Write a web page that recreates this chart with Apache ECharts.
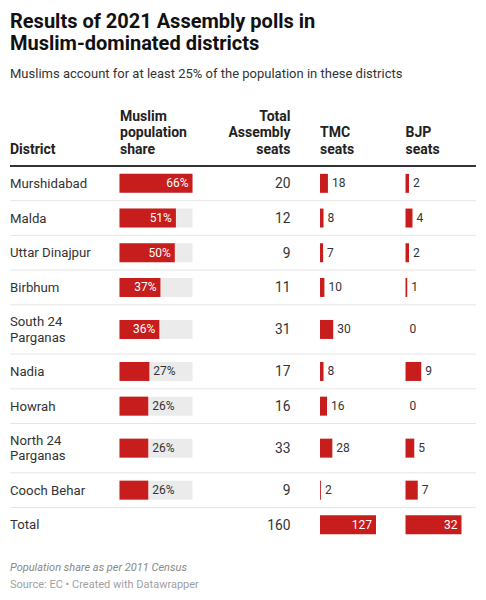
<!DOCTYPE html>
<html>
<head>
<meta charset="utf-8">
<script src="https://cdn.jsdelivr.net/npm/echarts@6/dist/echarts.min.js"></script>
<style>
html,body{margin:0;padding:0;background:#fff;}
#chart{width:486px;height:600px;}
</style>
</head>
<body>
<div id="chart"></div>
<script>
// ---- data ----
const districts = ["Murshidabad","Malda","Uttar Dinajpur","Birbhum","South 24\nParganas","Nadia","Howrah","North 24\nParganas","Cooch Behar","Total"];
const muslimShare = [66,51,50,37,36,27,26,26,26,null];
const totalSeats = [20,12,9,11,31,17,16,33,9,160];
const tmcSeats = [18,8,7,10,30,8,16,28,2,127];
const bjpSeats = [2,4,2,1,0,9,0,5,7,32];
const headers = ["District","Muslim\npopulation\nshare","Total\nAssembly\nseats","TMC\nseats","BJP\nseats"];

// ---- layout ----
const FONT = 'Roboto, "Noto Sans", sans-serif';
const RED = '#c71e1d';
const tableTop = 166;
const rowTops = [], rowHs = [];
let yy = tableTop;
districts.forEach(d => {
  const h = d.indexOf('\n') >= 0 ? 49.3 : 34.7;
  rowTops.push(yy); rowHs.push(h); yy += h;
});

const cols = {
  share: {left: 119.5, width: 73, max: Math.max(...muslimShare.filter(v => v != null))},
  tmc: {left: 320, width: 56, max: Math.max(...tmcSeats)},
  bjp: {left: 405.5, width: 56, max: Math.max(...bjpSeats)}
};

const grids = [], xAxes = [], yAxes = [], series = [];
function addBar(rowIdx, col, value, kind) {
  const gi = grids.length;
  grids.push({left: col.left, top: rowTops[rowIdx], width: col.width, height: rowHs[rowIdx], containLabel: false});
  xAxes.push({type: 'value', gridIndex: gi, min: 0, max: col.max, show: false});
  yAxes.push({type: 'category', gridIndex: gi, data: [districts[rowIdx]], show: false});
  let inside;
  if (kind === 'share') inside = value >= 30;
  else inside = districts[rowIdx] === 'Total';
  series.push({
    type: 'bar', xAxisIndex: gi, yAxisIndex: gi,
    data: [value], barWidth: 19, silent: true,
    itemStyle: {color: RED},
    showBackground: kind === 'share',
    backgroundStyle: {color: '#ebebeb'},
    label: {
      show: true,
      position: inside ? 'insideRight' : 'right',
      distance: 4,
      color: inside ? '#fff' : '#333',
      fontFamily: FONT, fontSize: 12,
      formatter: p => kind === 'share' ? p.value + '%' : String(p.value)
    },
    animation: false
  });
}

districts.forEach((d, i) => {
  if (muslimShare[i] != null) addBar(i, cols.share, muslimShare[i], 'share');
  addBar(i, cols.tmc, tmcSeats[i], 'tmc');
  addBar(i, cols.bjp, bjpSeats[i], 'bjp');
});

// ---- text & rules ----
const graphics = [];
const headerPos = [
  {x: 10, align: 'left'}, {x: 120, align: 'left'}, {x: 290.5, align: 'right'},
  {x: 320, align: 'left'}, {x: 405.5, align: 'left'}
];
headers.forEach((h, i) => {
  graphics.push({type: 'text', style: {
    x: headerPos[i].x, y: 157.3, text: h, align: headerPos[i].align, verticalAlign: 'bottom',
    font: 'bold 14px ' + FONT, fill: '#222', lineHeight: 16.6
  }});
});
graphics.push({type: 'line', shape: {x1: 10, y1: tableTop, x2: 476, y2: tableTop}, style: {stroke: '#333', lineWidth: 2}});
districts.forEach((d, i) => {
  const cy = rowTops[i] + rowHs[i] / 2;
  graphics.push({type: 'text', style: {
    x: 10, y: cy, text: d, align: 'left', verticalAlign: 'middle',
    font: '13.2px ' + FONT, fill: '#333', lineHeight: 15.4
  }});
  graphics.push({type: 'text', style: {
    x: 290.5, y: cy, text: String(totalSeats[i]), align: 'right', verticalAlign: 'middle',
    font: '13.8px ' + FONT, fill: '#333'
  }});
  if (i < districts.length - 1) {
    const by = rowTops[i] + rowHs[i];
    graphics.push({type: 'line', shape: {x1: 10, y1: by, x2: 476, y2: by}, style: {stroke: '#e6e6e6', lineWidth: 1}});
  }
});
graphics.push({type: 'text', style: {
  x: 10, y: 567, text: 'Population share as per 2011 Census', verticalAlign: 'middle',
  font: 'italic 11px ' + FONT, fill: '#888'
}});
graphics.push({type: 'text', style: {
  x: 10, y: 584.5, text: 'Source: EC \u2022 Created with Datawrapper', verticalAlign: 'middle',
  font: '11px ' + FONT, fill: '#a0a0a0'
}});

const chart = echarts.init(document.getElementById('chart'), null, {renderer: 'svg'});
chart.setOption({
  backgroundColor: '#fff',
  animation: false,
  title: [
    {text: 'Results of 2021 Assembly polls in\nMuslim-dominated districts', left: 10, top: 10.5, padding: 0,
     textStyle: {fontFamily: FONT, fontSize: 20, fontWeight: 'bold', color: '#111', lineHeight: 21.8}},
    {text: 'Muslims account for at least 25% of the population in these districts', left: 10, top: 65, padding: 0,
     textStyle: {fontFamily: FONT, fontSize: 13, fontWeight: 'normal', color: '#333', lineHeight: 16}}
  ],
  grid: grids, xAxis: xAxes, yAxis: yAxes, series: series,
  graphic: graphics
});
</script>
</body>
</html>
